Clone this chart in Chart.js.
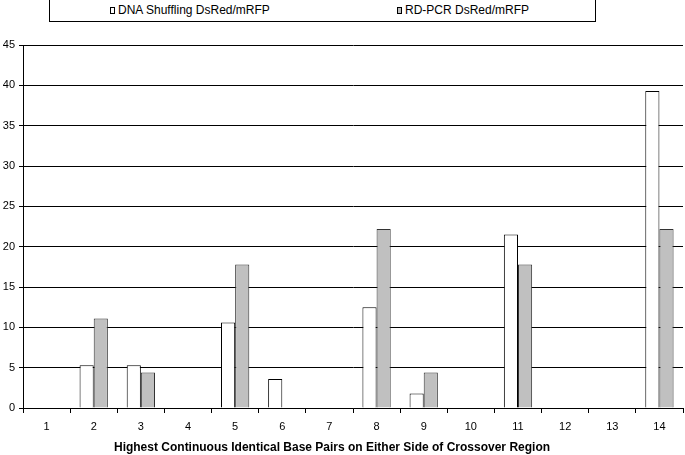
<!DOCTYPE html>
<html>
<head>
<meta charset="utf-8">
<script src="https://cdn.jsdelivr.net/npm/chart.js@4.4.1/dist/chart.umd.min.js"></script>
<style>
  html, body { margin: 0; padding: 0; background: #fff; }
  #wrap { position: relative; width: 685px; height: 455px; }
  #legend {
    position: absolute; left: 49px; top: -1px; width: 547px; height: 23px;
    border: 1px solid #000; box-sizing: border-box; background: #fff;
    font-family: "Liberation Sans", Arial, sans-serif; font-size: 12px; color: #000;
  }
  .item { position: absolute; top: 3px; white-space: nowrap; line-height: 14px; }
  .item i {
    display: inline-block; width: 3px; height: 5px; border: 1px solid #000;
    margin-right: 3px; vertical-align: 0px;
  }
</style>
</head>
<body>
<div id="wrap">
  <canvas id="chart" width="685" height="455"></canvas>
  <div id="legend"></div>
</div>
<script>
/* ─── Data ───────────────────────────────────────────────────────────────── */
const CATEGORIES = ['1', '2', '3', '4', '5', '6', '7', '8', '9', '10', '11', '12', '13', '14'];
const DNA_SHUFFLING = [0, 5.3, 5.3, 0, 10.6, 3.6, 0, 12.5, 1.8, 0, 21.5, 0, 0, 39.3];
const RD_PCR        = [0, 11.1, 4.4, 0, 17.8, 0, 0, 22.2, 4.4, 0, 17.8, 0, 0, 22.2];
const SERIES_LABELS = ['DNA Shuffling DsRed/mRFP', 'RD-PCR DsRed/mRFP'];
const SERIES_FILLS  = ['#ffffff', '#c0c0c0'];
const X_TITLE = 'Highest Continuous Identical Base Pairs on Either Side of Crossover Region';

const FONT = '"Liberation Sans", Arial, sans-serif';

/* ─── Legend (boxed, like the original) ──────────────────────────────────── */
const legendLeft = [60, 347];
document.getElementById('legend').innerHTML = SERIES_LABELS.map((l, i) =>
  `<div class="item" style="left:${legendLeft[i]}px"><i style="background:${SERIES_FILLS[i]}"></i>${l}</div>`
).join('');

/* ─── Axis title: the original sits a little left of the plot centre ─────── */
const axisTitle = {
  id: 'axisTitle',
  afterDraw(chart) {
    const { ctx, chartArea } = chart;
    ctx.save();
    ctx.font = `bold 12px ${FONT}`;
    ctx.fillStyle = '#000';
    ctx.textAlign = 'center';
    ctx.textBaseline = 'middle';
    ctx.fillText(X_TITLE, (chartArea.left + chartArea.right) / 2 - 21, chart.height - 7);
    ctx.restore();
  }
};

/* ─── Chart ──────────────────────────────────────────────────────────────── */
new Chart(document.getElementById('chart'), {
  type: 'bar',
  data: {
    labels: CATEGORIES,
    datasets: [
      {
        label: SERIES_LABELS[0],
        data: DNA_SHUFFLING,
        backgroundColor: SERIES_FILLS[0],
        borderColor: '#000',
        borderWidth: 1,
        borderSkipped: 'start'
      },
      {
        label: SERIES_LABELS[1],
        data: RD_PCR,
        backgroundColor: SERIES_FILLS[1],
        borderColor: '#333',
        borderWidth: 1,
        borderSkipped: 'start'
      }
    ]
  },
  plugins: [axisTitle],
  options: {
    responsive: false,
    animation: false,
    layout: { padding: { top: 45, right: 2, left: 0, bottom: 0 } },
    datasets: { bar: { categoryPercentage: 0.6, barPercentage: 1.0 } },
    plugins: { legend: { display: false }, tooltip: { enabled: false } },
    scales: {
      x: {
        afterFit: s => { s.height = 47; },
        grid: { drawOnChartArea: false, drawTicks: true, tickLength: 5, color: '#000' },
        border: { display: true, color: '#000' },
        ticks: { color: '#000', font: { family: FONT, size: 11 }, padding: 7, maxRotation: 0 }
      },
      y: {
        min: 0, max: 45,
        afterFit: s => { s.width = 23; },
        grid: { color: '#000', tickLength: 4, drawTicks: true },
        border: { display: true, color: '#000' },
        ticks: { stepSize: 5, color: '#000', font: { family: FONT, size: 11 }, padding: 4 }
      }
    }
  }
});
</script>
</body>
</html>
